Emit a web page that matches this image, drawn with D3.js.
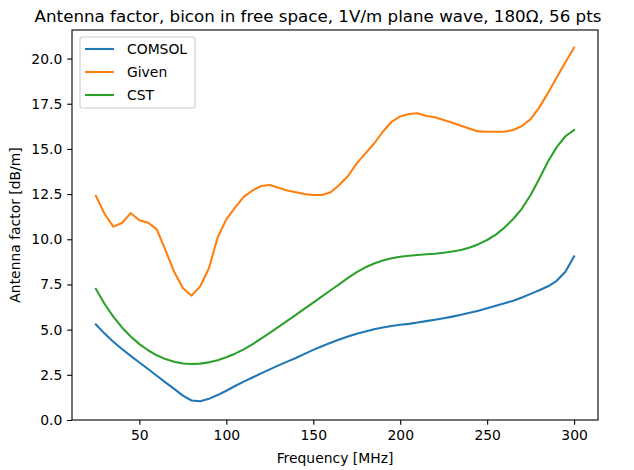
<!DOCTYPE html>
<html>
<head>
<meta charset="utf-8">
<script src="https://cdn.jsdelivr.net/npm/d3@7"></script>
<style>
  html, body { margin: 0; padding: 0; background: #fff; }
  svg { display: block; font-family: "DejaVu Sans", sans-serif; }
</style>
</head>
<body>
<svg id="chart" width="634" height="470"></svg>
<script>
const freqs = [25,30,35,40,45,50,55,60,65,70,75,80,85,90,95,100,105,110,115,120,125,130,135,140,145,150,155,160,165,170,175,180,185,190,195,200,205,210,215,220,225,230,235,240,245,250,255,260,265,270,275,280,285,290,295,300];

const comsol = [5.28,4.78,4.33,3.93,3.55,3.18,2.82,2.45,2.08,1.72,1.35,1.08,1.04,1.17,1.38,1.62,1.88,2.12,2.35,2.58,2.8,3.02,3.23,3.43,3.66,3.88,4.08,4.27,4.45,4.62,4.77,4.9,5.02,5.12,5.2,5.27,5.32,5.4,5.47,5.55,5.63,5.72,5.82,5.93,6.05,6.18,6.32,6.46,6.6,6.78,6.98,7.18,7.4,7.7,8.2,9.05];

const given = [12.4,11.4,10.7,10.9,11.45,11.05,10.92,10.55,9.4,8.2,7.3,6.88,7.4,8.4,10.1,11.1,11.75,12.35,12.7,12.95,13.0,12.85,12.7,12.6,12.5,12.45,12.45,12.6,13.0,13.5,14.2,14.75,15.3,15.95,16.5,16.8,16.93,16.97,16.82,16.75,16.6,16.45,16.28,16.12,15.97,15.95,15.95,15.95,16.05,16.27,16.65,17.3,18.1,18.95,19.8,20.6];

const cst = [7.25,6.42,5.72,5.12,4.62,4.2,3.86,3.58,3.37,3.22,3.13,3.1,3.12,3.19,3.31,3.47,3.67,3.91,4.19,4.5,4.82,5.15,5.48,5.82,6.16,6.5,6.84,7.18,7.52,7.86,8.18,8.45,8.66,8.82,8.95,9.03,9.09,9.13,9.17,9.2,9.25,9.32,9.41,9.55,9.73,9.96,10.26,10.65,11.12,11.7,12.45,13.35,14.3,15.1,15.7,16.05];

const seriesNames = ["COMSOL", "Given", "CST"];
const seriesColors = ["#1f77b4", "#ff7f0e", "#2ca02c"];
const xTicks = [50,100,150,200,250,300];
const yTicks = [0,2.5,5,7.5,10,12.5,15,17.5,20];
const titleText = "Antenna factor, bicon in free space, 1V/m plane wave, 180\u03A9, 56 pts";
const xLabel = "Frequency [MHz]";
const yLabel = "Antenna factor [dB/m]";

const series = [comsol, given, cst];

const svg = d3.select("#chart");
const L = 72, R = 598, T = 30, B = 420;
const FS = 13.9;

const x = d3.scaleLinear().domain([11.25, 313.75]).range([L, R]);
const y = d3.scaleLinear().domain([0, 21.58]).range([B, T]);

// lines
const line = d3.line().x((d, i) => x(freqs[i])).y(d => y(d));
series.forEach((s, k) => {
  svg.append("path")
    .datum(s)
    .attr("d", line)
    .attr("fill", "none")
    .attr("stroke", seriesColors[k])
    .attr("stroke-width", 2.08)
    .attr("stroke-linejoin", "round")
    .attr("stroke-linecap", "square");
});

// axes
const xAxis = d3.axisBottom(x).tickValues(xTicks).tickSize(4.86).tickPadding(4.86).tickFormat(d3.format("d"));
const yAxis = d3.axisLeft(y).tickValues(yTicks).tickSize(4.86).tickPadding(4.86).tickFormat(d3.format(".1f"));

const gx = svg.append("g").attr("transform", `translate(0,${B})`).call(xAxis);
const gy = svg.append("g").attr("transform", `translate(${L},0)`).call(yAxis);
[gx, gy].forEach(g => {
  g.select(".domain").remove();
  g.selectAll("line").attr("stroke", "#000").attr("stroke-width", 1.1);
  g.selectAll("text").attr("font-family", "DejaVu Sans").attr("font-size", FS).attr("fill", "#000");
});

// frame
svg.append("rect").attr("x", L).attr("y", T).attr("width", R - L).attr("height", B - T)
  .attr("fill", "none").attr("stroke", "#000").attr("stroke-width", 1.1);

// title
svg.append("text").attr("x", 318).attr("y", 22)
  .attr("text-anchor", "middle").attr("font-size", 16.7).attr("fill", "#000").text(titleText);

// axis labels
svg.append("text").attr("x", (L + R) / 2).attr("y", 463)
  .attr("text-anchor", "middle").attr("font-size", FS).attr("fill", "#000").text(xLabel);
svg.append("text").attr("transform", `translate(20,${(T + B) / 2}) rotate(-90)`)
  .attr("text-anchor", "middle").attr("font-size", FS).attr("fill", "#000").text(yLabel);

// legend
const lg = svg.append("g").attr("transform", "translate(80,37)");
lg.append("rect").attr("x", 0).attr("y", 0).attr("width", 115).attr("height", 71)
  .attr("rx", 2.5).attr("fill", "#fff").attr("fill-opacity", 0.8)
  .attr("stroke", "#cccccc").attr("stroke-width", 1.1);
seriesNames.forEach((n, k) => {
  const yy = 12 + k * 23;
  lg.append("line").attr("x1", 5).attr("x2", 34).attr("y1", yy).attr("y2", yy)
    .attr("stroke", seriesColors[k]).attr("stroke-width", 2.08);
  lg.append("text").attr("x", 47).attr("y", yy + 5).attr("font-size", FS).attr("fill", "#000").text(n);
});
</script>
</body>
</html>
